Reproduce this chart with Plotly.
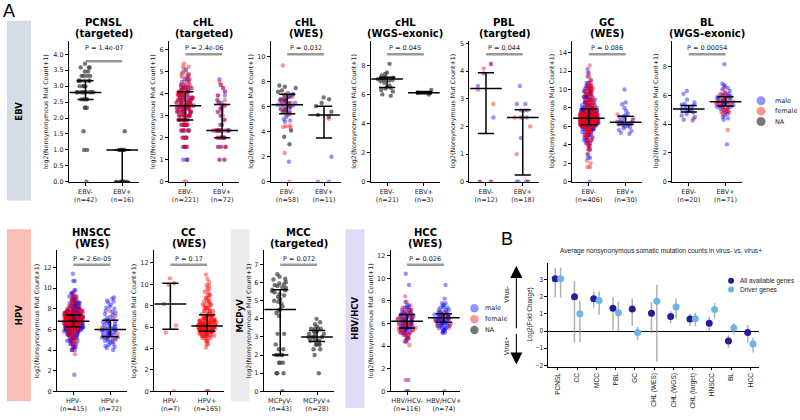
import numpy as np
import plotly.graph_objects as go

W, H = 800, 420

# ====================== DATA : panel A ======================
# values are log2(Nonsynonymous Mut Count + 1).
# targeted panels are given as mutation-count grids + number of samples,
# large WES panels as value grids + number of samples, small groups as raw lists.

# PCNSL (targeted) - all NA sex
pcnsl_neg_counts = [0, 1, 2, 4, 5, 6, 7, 8, 9, 10, 11, 12]
pcnsl_neg_na_n = [1, 2, 1, 3, 5, 10, 4, 6, 4, 2, 3, 1]
pcnsl_pos_counts = [0, 1, 2]
pcnsl_pos_na_n = [7, 8, 1]
pcnsl_stats = [[2.8, 2.58, 3.17], [1.0, 0.0, 1.0]]

# cHL (targeted)
chlt_neg_counts = [0, 1, 2, 3, 4, 5, 6, 7, 8, 9, 10, 11, 12, 13, 14, 15, 16, 17, 18, 19, 20, 22, 24, 26, 28, 30, 33, 36, 40]
chlt_neg_male_n = [0, 3, 4, 4, 5, 6, 8, 8, 8, 7, 7, 6, 6, 5, 4, 4, 4, 3, 3, 2, 2, 2, 2, 1, 1, 1, 1, 0, 0]
chlt_neg_female_n = [2, 1, 4, 4, 5, 6, 8, 8, 8, 7, 7, 6, 6, 5, 5, 4, 4, 3, 3, 3, 2, 2, 2, 2, 2, 1, 1, 2, 1]
chlt_pos_counts = [1, 2, 3, 4, 5, 6, 7, 8, 9, 10, 11, 12, 14, 16, 18, 20, 22, 24]
chlt_pos_male_n = [2, 3, 5, 8, 2, 1, 2, 1, 2, 1, 2, 1, 2, 1, 1, 1, 0, 1]
chlt_pos_female_n = [2, 4, 5, 8, 1, 2, 1, 2, 1, 2, 1, 2, 1, 1, 1, 1, 1, 0]
chlt_stats = [[3.45, 2.8, 4.08], [2.32, 2.0, 3.5]]

# cHL (WES)
chlw_neg_male = [7.1, 6.9, 6.7, 6.6, 6.5, 6.4, 6.3, 6.2, 6.15, 6.1, 6.0, 5.9, 5.8, 5.7, 5.6, 5.5, 5.4, 5.2, 5.0, 4.9, 4.8, 1.6]
chlw_neg_female = [9.3, 7.0, 6.8, 6.6, 6.4, 6.3, 6.2, 6.1, 5.9, 5.7, 5.5, 5.3, 4.5, 4.45, 4.4, 4.3, 2.3, 0.0]
chlw_neg_na = [7.7, 7.6, 7.5, 7.3, 7.2, 7.0, 6.9, 6.8, 6.6, 6.5, 6.3, 6.2, 6.0, 5.8, 5.6, 4.1, 3.6, 3.0]
chlw_pos_male = [2.0, 0.0, 0.0]
chlw_pos_female = [5.05]
chlw_pos_na = [6.75, 6.6, 6.3, 6.05, 5.6, 5.35, 5.2]
chlw_stats = [[6.17, 5.45, 7.0], [5.35, 3.5, 6.05]]

# cHL (WGS-exonic)
chlg_neg_na = [8.1, 7.5, 7.4, 7.3, 7.2, 7.15, 7.1, 7.05, 7.0, 7.0, 6.95, 6.9, 6.8, 6.6, 6.5, 6.45, 6.4, 6.3, 6.2, 6.0, 5.9]
chlg_pos_na = [6.3, 6.12, 6.0]
chlg_stats = [[7.05, 6.47, 7.18], [6.12, 6.05, 6.2]]

# PBL (targted)
pbl_neg_male = [4.25, 3.91, 3.46, 2.32, 0.0, 0.0]
pbl_neg_female = [4.25, 4.09, 3.32, 2.81, 0.0, 0.0]
pbl_pos_male = [3.46, 2.81, 2.81, 2.58, 2.58, 2.32, 2.32, 1.58, 0.0, 0.0, 0.0, 0.0]
pbl_pos_female = [2.58, 2.32, 2.32, 2.0, 1.0, 0.0]
pbl_stats = [[3.37, 1.74, 3.94], [2.32, 0.25, 2.6]]

# GC (WES)
gc_neg_grid = [0.0, 1.6, 2.0, 2.3, 2.6, 3.0, 3.5, 3.9, 4.2, 4.5, 4.8, 5.1, 5.4, 5.7, 6.0, 6.2, 6.4, 6.6, 6.8, 7.0,
               7.2, 7.4, 7.6, 7.8, 8.0, 8.3, 8.6, 8.9, 9.2, 9.5, 9.8, 10.1, 10.4, 10.7, 11.0, 11.4, 11.8, 12.2, 12.6]
gc_neg_male_n = [1, 0, 0, 0, 2, 1, 2, 2, 3, 4, 4, 5, 6, 9, 12, 15, 17, 18, 18, 17,
                 15, 12, 11, 10, 8, 7, 6, 6, 6, 5, 5, 4, 3, 2, 1, 1, 1, 1, 0]
gc_neg_female_n = [0, 2, 1, 1, 0, 1, 2, 2, 2, 2, 3, 3, 4, 5, 8, 9, 11, 12, 12, 11,
                   9, 8, 7, 6, 6, 5, 5, 4, 4, 4, 4, 4, 3, 2, 1, 1, 1, 0, 1]
gc_pos_male = [10.0, 8.6, 8.4, 8.0, 7.7, 7.4, 7.2, 7.1, 7.0, 6.8, 6.7, 6.6, 6.5, 6.45, 6.4, 6.3, 6.2, 6.15, 6.1,
               6.0, 5.9, 5.8, 5.6, 5.5, 5.3, 5.2]
gc_pos_female = [7.3, 6.9, 6.5, 6.25]
gc_stats = [[6.88, 6.18, 7.9], [6.45, 6.2, 7.1]]

# BL (WGS-exonic)
bl_neg_male = [6.3, 6.1, 5.7, 5.5, 5.4, 5.35, 5.3, 5.2, 5.1, 5.05, 5.0, 4.95, 4.9, 4.8, 4.7, 4.6, 4.5, 4.3, 4.25]
bl_neg_female = [4.4]
bl_pos_male = [8.15, 6.8, 6.7, 6.6, 6.5, 6.4, 6.3, 6.2, 6.1, 6.05, 6.0, 5.95, 5.9, 5.85, 5.8, 5.75, 5.7, 5.65,
               5.6, 5.55, 5.5, 5.45, 5.4, 5.35, 5.3, 5.25, 5.2, 5.15, 5.1, 5.05, 5.0, 4.9, 4.8, 4.7, 4.6, 4.5,
               4.4, 4.3, 2.6, 5.6, 5.8, 5.5, 5.2, 6.0, 5.4]
bl_pos_female = [6.5, 6.2, 6.1, 6.0, 5.9, 5.8, 5.7, 5.6, 5.55, 5.5, 5.45, 5.4, 5.35, 5.3, 5.2, 5.1, 5.0, 4.9,
                 4.85, 4.8, 4.7, 4.9, 5.3, 5.6, 5.9, 3.6]
bl_stats = [[5.05, 4.85, 5.3], [5.55, 5.25, 5.9]]

# HNSCC (WES)
hn_neg_grid = [1.6, 3.6, 4.0, 4.3, 4.6, 4.9, 5.2, 5.5, 5.8, 6.0, 6.2, 6.4, 6.6, 6.8, 7.0, 7.2, 7.4, 7.6, 7.8, 8.0,
               8.3, 8.6, 8.9, 9.2, 9.5, 9.8, 10.7, 11.4]
hn_neg_male_n = [1, 0, 3, 4, 5, 6, 8, 10, 12, 14, 17, 21, 22, 24, 24, 22, 21, 18, 14, 11, 9, 8, 6, 4, 3, 2, 2, 1]
hn_neg_female_n = [0, 1, 1, 1, 2, 3, 3, 4, 5, 6, 7, 9, 10, 10, 10, 10, 9, 8, 6, 5, 4, 3, 3, 2, 1, 0, 0, 0]
hn_pos_male = [9.1, 9.0, 8.8, 8.7, 8.6, 8.4, 8.2, 8.0, 7.8, 7.6, 7.5, 7.4, 7.2, 7.0, 6.9, 6.85, 6.8, 6.7, 6.6, 6.5,
               6.4, 6.3, 6.2, 6.1, 6.05, 6.0, 5.95, 5.9, 5.8, 5.7, 5.6, 5.5, 5.45, 5.4, 5.35, 5.3, 5.25, 5.2, 5.1,
               5.0, 4.9, 4.8, 4.7, 4.6, 4.5, 4.4, 4.2, 4.0, 6.3, 5.8, 5.6, 6.6, 7.1, 5.2, 4.9, 6.1, 5.5, 6.0, 5.7,
               7.7, 8.1, 6.8, 5.1, 4.3, 5.9]
hn_pos_female = [7.8, 7.3, 6.9, 6.2, 5.6, 5.3, 5.0]
hn_stats = [[6.78, 6.25, 7.4], [6.0, 5.3, 6.9]]

# CC (WES)
cc_neg_female = [10.55, 10.1, 9.95, 8.15, 6.15, 5.5, 0.0]
cc_pos_grid = [0.0, 4.1, 4.4, 4.7, 5.0, 5.2, 5.4, 5.6, 5.8, 6.0, 6.2, 6.4, 6.6, 6.8, 7.0, 7.2, 7.5, 7.8, 8.1, 8.4,
               8.7, 9.0, 9.3, 9.6, 9.9, 10.2, 10.5, 10.9]
cc_pos_female_n = [3, 1, 2, 3, 5, 7, 9, 12, 14, 16, 15, 12, 10, 8, 7, 6, 6, 5, 5, 4, 3, 3, 2, 2, 2, 1, 1, 1]
cc_stats = [[8.15, 5.8, 10.1], [6.1, 5.6, 7.15]]

# MCC (targeted) - all NA sex
mcc_neg_na = [6.46, 6.32, 6.21, 6.17, 6.04, 5.95, 5.91, 5.86, 5.81, 5.75, 5.61, 5.58, 5.52, 5.46, 5.36, 5.29,
              5.21, 5.09, 4.95, 4.86, 4.7, 4.52, 4.46, 4.32, 4.17, 3.17, 3.17, 2.58, 2.32, 2.32, 2.0, 2.0, 2.0,
              2.0, 1.58, 1.58, 1.58, 1.0, 1.0, 1.0, 0.0, 5.7, 5.0]
mcc_pos_na = [4.0, 3.81, 3.46, 3.46, 3.46, 3.46, 3.32, 3.32, 3.17, 3.17, 3.17, 3.0, 3.0, 3.0, 3.0, 2.81, 2.81,
              2.58, 2.58, 2.58, 2.58, 2.32, 2.32, 2.0, 1.0, 3.58, 2.81, 3.7]
mcc_stats = [[4.52, 2.0, 5.6], [3.0, 2.75, 3.35]]

# HCC (WES)
hcc_neg_grid = [0.0, 1.0, 4.1, 4.4, 4.7, 5.0, 5.2, 5.4, 5.6, 5.8, 6.0, 6.2, 6.4, 6.6, 6.8, 7.0, 7.2, 7.4, 7.6,
                7.9, 8.4, 9.4, 10.4]
hcc_neg_male_n = [2, 1, 0, 2, 3, 3, 4, 5, 5, 6, 6, 6, 6, 5, 5, 4, 3, 3, 2, 1, 0, 1, 1]
hcc_neg_female_n = [1, 1, 1, 1, 2, 3, 3, 3, 3, 3, 3, 3, 3, 3, 2, 2, 2, 1, 1, 1, 1, 0, 0]
hcc_pos_grid = [0.0, 5.2, 5.4, 5.6, 5.8, 6.0, 6.2, 6.4, 6.6, 6.8, 7.0, 7.2, 7.4, 7.6, 7.8, 8.2, 9.4]
hcc_pos_male_n = [1, 3, 3, 4, 5, 6, 7, 7, 7, 6, 4, 3, 3, 2, 2, 1, 1]
hcc_pos_female_n = [0, 0, 0, 1, 1, 1, 1, 2, 1, 1, 1, 0, 0, 0, 0, 0, 0]
hcc_stats = [[6.2, 5.6, 6.8], [6.5, 6.1, 6.85]]

# ====================== DATA : panel B ======================
b_categories = ["PCNSL", "CC", "MCC", "PBL", "GC", "CHL (WES)", "CHL (WGS)", "CHL (target)", "HNSCC", "BL", "HCC"]
b_all = [3.05, 2.0, 1.88, 1.32, 1.28, 1.03, 0.85, 0.7, 0.45, -0.58, -0.08]
b_all_lo = [1.95, -0.65, 1.35, 0.05, 0.3, -0.15, 0.45, 0.3, 0.0, -0.98, -0.65]
b_all_hi = [3.7, 2.9, 2.3, 2.0, 1.88, 1.68, 1.15, 1.0, 0.8, -0.25, 0.35]
b_drv = [3.05, 1.0, 1.78, 1.07, -0.08, 1.73, 1.4, 0.72, 1.25, 0.18, -0.75]
b_drv_lo = [1.95, -0.65, 0.95, 0.0, -0.5, -1.78, 0.72, 0.3, 0.75, -0.2, -1.25]
b_drv_hi = [3.7, 1.75, 2.3, 1.72, 0.25, 2.7, 1.9, 1.05, 1.62, 0.45, -0.38]


def from_counts(grid, n):
    return np.log2(np.repeat(np.asarray(grid, float), n) + 1)


def from_grid(grid, n):
    return np.repeat(np.asarray(grid, float), n)


# ====================== STYLE ======================
def PX(v):
    return v / W


def PY(v):
    return 1 - v / H


FONT = "DejaVu Sans"
ARIAL = "Liberation Sans"
BLUE = "rgba(0,0,255,0.42)"
RED = "rgba(255,0,0,0.42)"
GRAY = "rgba(60,60,60,0.7)"
ROWS = [dict(top=40, bottom=183, t1=22, t2=33, ptext=48, pline=54),
        dict(top=252, bottom=395, t1=234, t2=245, ptext=261, pline=267)]

panels = [
    dict(t1="PCNSL", t2="(targeted)", v="EBV", n=[42, 16], p="1.4e-07", row=0, left=69, ymax=4.43, dt=0.5, fmt=".1f", yoff=23, pline=61,
         groups=[dict(na=from_counts(pcnsl_neg_counts, pcnsl_neg_na_n)), dict(na=from_counts(pcnsl_pos_counts, pcnsl_pos_na_n))],
         stats=pcnsl_stats),
    dict(t1="cHL", t2="(targeted)", v="EBV", n=[221, 72], p="2.4e-06", row=0, left=169, ymax=6.4, dt=1, fmt="", yoff=16,
         groups=[dict(male=from_counts(chlt_neg_counts, chlt_neg_male_n), female=from_counts(chlt_neg_counts, chlt_neg_female_n)),
                 dict(male=from_counts(chlt_pos_counts, chlt_pos_male_n), female=from_counts(chlt_pos_counts, chlt_pos_female_n))],
         stats=chlt_stats),
    dict(t1="cHL", t2="(WES)", v="EBV", n=[58, 11], p="0.032", row=0, left=271, ymax=11.3, dt=2, fmt="", yoff=20,
         groups=[dict(na=chlw_neg_na, male=chlw_neg_male, female=chlw_neg_female),
                 dict(na=chlw_pos_na, male=chlw_pos_male, female=chlw_pos_female)],
         stats=chlw_stats),
    dict(t1="cHL", t2="(WGS-exonic)", v="EBV", n=[21, 3], p="0.045", row=0, left=371, ymax=9.7, dt=2, fmt="", yoff=16,
         groups=[dict(na=chlg_neg_na), dict(na=chlg_pos_na)], stats=chlg_stats),
    dict(t1="PBL", t2="(targted)", v="EBV", n=[12, 18], p="0.044", row=0, left=470, ymax=5.1, dt=1, fmt="", yoff=16,
         groups=[dict(male=pbl_neg_male, female=pbl_neg_female), dict(male=pbl_pos_male, female=pbl_pos_female)],
         stats=pbl_stats),
    dict(t1="GC", t2="(WES)", v="EBV", n=[406, 30], p="0.086", row=0, left=573, ymax=15.3, dt=2, fmt="", yoff=20,
         groups=[dict(male=from_grid(gc_neg_grid, gc_neg_male_n), female=from_grid(gc_neg_grid, gc_neg_female_n)),
                 dict(male=gc_pos_male, female=gc_pos_female)],
         stats=gc_stats),
    dict(t1="BL", t2="(WGS-exonic)", v="EBV", n=[20, 71], p="0.00054", row=0, left=673, ymax=9.8, dt=2, fmt="", yoff=16,
         groups=[dict(male=bl_neg_male, female=bl_neg_female), dict(male=bl_pos_male, female=bl_pos_female)],
         stats=bl_stats),
    dict(t1="HNSCC", t2="(WES)", v="HPV", n=[415, 72], p="2.6e-05", row=1, left=57, ymax=13.7, dt=2, fmt="", yoff=20,
         groups=[dict(male=from_grid(hn_neg_grid, hn_neg_male_n), female=from_grid(hn_neg_grid, hn_neg_female_n)),
                 dict(male=hn_pos_male, female=hn_pos_female)],
         stats=hn_stats),
    dict(t1="CC", t2="(WES)", v="HPV", n=[7, 165], p="0.17", row=1, left=154, ymax=13.2, dt=2, fmt="", yoff=20,
         groups=[dict(female=cc_neg_female), dict(female=from_grid(cc_pos_grid, cc_pos_female_n))],
         stats=cc_stats),
    dict(t1="MCC", t2="(targeted)", v="MCPyV", n=[43, 28], p="0.072", row=1, left=264, ymax=7.8, dt=1, fmt="", yoff=15,
         groups=[dict(na=mcc_neg_na), dict(na=mcc_pos_na)], stats=mcc_stats),
    dict(t1="HCC", t2="(WES)", v="HBV/HCV", n=[116, 74], p="0.026", row=1, left=391, ymax=12.5, dt=2, fmt="", yoff=20,
         groups=[dict(male=from_grid(hcc_neg_grid, hcc_neg_male_n), female=from_grid(hcc_neg_grid, hcc_neg_female_n)),
                 dict(male=from_grid(hcc_pos_grid, hcc_pos_male_n), female=from_grid(hcc_pos_grid, hcc_pos_female_n))],
         stats=hcc_stats),
]

fig = go.Figure()
layout = dict(width=W, height=H, margin=dict(l=0, r=0, t=0, b=0), paper_bgcolor="white",
              plot_bgcolor="white", showlegend=False, boxmode="overlay",
              font=dict(family=FONT, color="#111111"))
shapes, annos = [], []


def ann(**kw):
    d = dict(showarrow=False, xanchor="center", yanchor="middle", xref="paper", yref="paper")
    d.update(kw)
    annos.append(d)


axis_common = dict(showline=True, linecolor="black", linewidth=0.8, ticks="outside", ticklen=3,
                   tickwidth=0.8, tickcolor="black", showgrid=False, zeroline=False, fixedrange=True,
                   tickfont=dict(size=6.5, family=FONT, color="#222"))

for i, pn in enumerate(panels, start=1):
    sfx = "" if i == 1 else str(i)
    xa, ya = "x" + sfx, "y" + sfx
    row = ROWS[pn["row"]]
    left = pn["left"]
    right = left + 70
    layout["xaxis" + sfx] = dict(axis_common, domain=[PX(left), PX(right)], range=[-0.45, 1.45], anchor=ya,
                                 tickvals=[0, 1],
                                 ticktext=[f"{pn['v']}-<br>(n={pn['n'][0]})", f"{pn['v']}+<br>(n={pn['n'][1]})"])
    layout["yaxis" + sfx] = dict(axis_common, domain=[PY(row["bottom"]), PY(row["top"])], range=[0, pn["ymax"]],
                                 anchor=xa, tick0=0, dtick=pn["dt"], tickformat=pn["fmt"])
    for g, grp in enumerate(pn["groups"]):
        for key, col in (("na", GRAY), ("male", BLUE), ("female", RED)):
            vals = grp.get(key, [])
            if len(vals) == 0:
                continue
            fig.add_trace(go.Box(x=[g] * len(vals), y=list(vals), boxpoints="all", jitter=1.0, pointpos=0,
                                 width=0.52, fillcolor="rgba(0,0,0,0)", line=dict(width=0, color="rgba(0,0,0,0)"),
                                 marker=dict(color=col, size=4.4, line=dict(width=0)),
                                 xaxis=xa, yaxis=ya, hoverinfo="skip", showlegend=False))
    xs, ys = [], []
    for g, (med, q1, q3) in enumerate(pn["stats"]):
        xs += [g - 0.43, g + 0.43, None, g, g, None, g - 0.22, g + 0.22, None, g - 0.22, g + 0.22, None]
        ys += [med, med, None, q1, q3, None, q1, q1, None, q3, q3, None]
    fig.add_trace(go.Scatter(x=xs, y=ys, mode="lines", line=dict(color="black", width=1.5),
                             xaxis=xa, yaxis=ya, hoverinfo="skip", showlegend=False, cliponaxis=False))
    # p-value bracket
    pl = pn.get("pline", row["pline"])
    shapes.append(dict(type="line", xref=xa, yref="paper", x0=0, x1=1, y0=PY(pl), y1=PY(pl),
                       line=dict(color="#999999", width=2.5)))
    ann(xref=xa, x=0.5, y=PY(row["ptext"]), text="P = " + pn["p"], font=dict(size=6.5, family=FONT, color="#222"))
    cx = PX(left + 35)
    ann(x=cx, y=PY(row["t1"]), text=pn["t1"], font=dict(size=10, family=FONT, color="black", weight="bold"))
    ann(x=cx, y=PY(row["t2"]), text=pn["t2"], font=dict(size=10, family=FONT, color="black", weight="bold"))
    ann(x=PX(left - pn["yoff"]), y=PY((row["top"] + row["bottom"]) / 2), text="log2(Nonsynonymous Mut Count+1)",
        textangle=-90, font=dict(size=6.3, family=FONT, color="#222"))

# side bars (virus groups)
for (x0, x1, y0, y1, col, lab) in [(7, 31, 20, 202, "#d4dce7", "EBV"), (7, 31, 231, 405, "#f9beb5", "HPV"),
                                   (231, 250, 231, 405, "#ececec", "MCPyV"), (346, 365, 231, 412, "#e1dbf8", "HBV/HCV")]:
    shapes.append(dict(type="rect", xref="paper", yref="paper", x0=PX(x0), x1=PX(x1), y0=PY(y1), y1=PY(y0),
                       fillcolor=col, line=dict(width=0), layer="below"))
    ann(x=PX((x0 + x1) / 2), y=PY((y0 + y1) / 2), text=lab, textangle=-90,
        font=dict(size=8.5, family=FONT, color="black", weight="bold"))

# sex legends
for (lx, ly0, dy, r, gap) in [(762, 101, 10.5, 4.5, 7), (475, 311, 11, 4.2, 4)]:
    for k, (lab, col) in enumerate([("male", BLUE), ("female", RED), ("NA", GRAY)]):
        cy = ly0 + k * dy
        shapes.append(dict(type="circle", xref="paper", yref="paper", xsizemode="pixel", ysizemode="pixel",
                           xanchor=PX(lx), yanchor=PY(cy), x0=-r, x1=r, y0=-r, y1=r,
                           fillcolor=col, line=dict(width=0)))
        ann(x=PX(lx + r + gap), y=PY(cy), text=lab, xanchor="left", font=dict(size=6.5, family=FONT, color="#222"))

# panel letters
ann(x=PX(1), y=PY(10), text="A", xanchor="left", font=dict(size=18, family=ARIAL, color="black"))
ann(x=PX(500), y=PY(241), text="B", xanchor="left", font=dict(size=18, family=ARIAL, color="black"))

# ====================== panel B ======================
bi = len(panels) + 1
bx, by = f"x{bi}", f"y{bi}"
idx = np.arange(len(b_categories))
layout[f"xaxis{bi}"] = dict(axis_common, domain=[PX(549), PX(760)], range=[-0.5, 10.45], anchor=by,
                            tickvals=list(idx), ticktext=b_categories, tickangle=-90,
                            tickfont=dict(size=6.5, family=ARIAL, color="#222"))
layout[f"yaxis{bi}"] = dict(axis_common, domain=[PY(370), PY(265)], range=[-2.07, 3.97], anchor=bx,
                            tickvals=[-2, -1, 0, 1, 2, 3], ticktext=["\u22122", "\u22121", "0", "1", "2", "3"],
                            zeroline=True, zerolinecolor="black", zerolinewidth=1,
                            tickfont=dict(size=6.5, family=ARIAL, color="#222"))
for vals, lo, hi, off, col in [(b_all, b_all_lo, b_all_hi, -0.14, "#202098"),
                               (b_drv, b_drv_lo, b_drv_hi, 0.14, "#6cb6e2")]:
    v = np.asarray(vals)
    fig.add_trace(go.Scatter(x=idx + off, y=v, mode="markers", xaxis=bx, yaxis=by,
                             marker=dict(color=col, size=7, line=dict(width=0)),
                             error_y=dict(type="data", symmetric=False, array=np.asarray(hi) - v,
                                          arrayminus=v - np.asarray(lo), color="rgba(150,150,150,0.75)",
                                          thickness=1.5, width=0),
                             hoverinfo="skip", showlegend=False))

ann(x=PX(662), y=PY(253), text="Average nonsynonymous somatic mutation counts in virus- vs. virus+",
    font=dict(size=6.6, family=ARIAL, color="#222"))
ann(x=PX(531), y=PY(317), text="Log2(Fold Change)", textangle=-90, font=dict(size=6.3, family=ARIAL, color="#222"))
for k, (lab, col) in enumerate([("All available genes", "#202098"), ("Driver genes", "#6cb6e2")]):
    cy = 283 + k * 9
    shapes.append(dict(type="circle", xref="paper", yref="paper", xsizemode="pixel", ysizemode="pixel",
                       xanchor=PX(732), yanchor=PY(cy), x0=-3, x1=3, y0=-3, y1=3, fillcolor=col, line=dict(width=0)))
    ann(x=PX(739), y=PY(cy), text=lab, xanchor="left", font=dict(size=6.5, family=ARIAL, color="#222"))
# virus- / virus+ arrows
annos.append(dict(xref="paper", yref="paper", x=PX(517), y=PY(268), ax=0, ay=64, text="", showarrow=True,
                  arrowhead=2, arrowsize=2.2, arrowwidth=1.1, arrowcolor="black"))
annos.append(dict(xref="paper", yref="paper", x=PX(517), y=PY(368), ax=0, ay=-32, text="", showarrow=True,
                  arrowhead=2, arrowsize=2.2, arrowwidth=1.1, arrowcolor="black"))
ann(x=PX(507), y=PY(297), text="Virus-", textangle=-90, font=dict(size=6.5, family=ARIAL, color="#222"))
ann(x=PX(507), y=PY(349), text="Virus+", textangle=-90, font=dict(size=6.5, family=ARIAL, color="#222"))

layout["shapes"] = shapes
layout["annotations"] = annos
fig.update_layout(**layout)
fig.write_html("out.html", config={"displayModeBar": False})
